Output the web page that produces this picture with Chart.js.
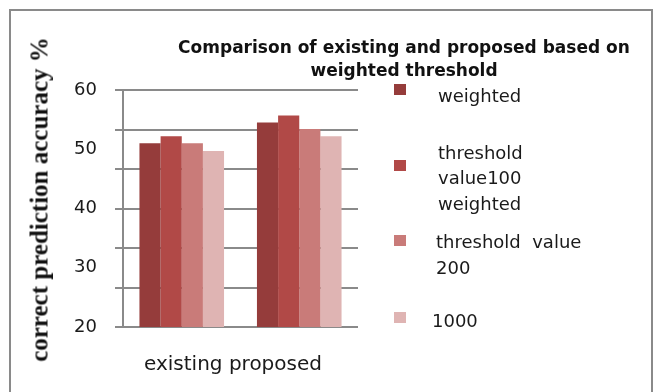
<!DOCTYPE html>
<html>
<head>
<meta charset="utf-8">
<script src="https://cdn.jsdelivr.net/npm/chart.js@4/dist/chart.umd.min.js"></script>
<style>
  body { margin: 0; background: #fff; }
  #wrap { position: relative; width: 657px; height: 392px; overflow: hidden; }
  #frame { position: absolute; left: 9px; top: 9px; width: 644px; height: 420px; box-sizing: border-box; border: 2px solid #8a8a8a; }
  #chart { position: absolute; left: 0; top: 0; }
  .txt { position: absolute; white-space: pre; font-family: 'DejaVu Sans', sans-serif; color: #1a1a1a; }
  .title { font-weight: bold; font-size: 17px; line-height: 23px; width: 600px; text-align: center; color: #111; }
  .ytitle { font-family: 'Liberation Serif', serif; font-weight: bold; font-size: 25px; line-height: 25px;
            width: 400px; height: 25px; text-align: center; transform: rotate(-90deg); color: #111; }
  .leg { font-size: 18px; line-height: 25.5px; }
  .sq { position: absolute; width: 12px; height: 11px; }
</style>
</head>
<body>
<div id="wrap">
  <div id="frame"></div>
  <canvas id="chart" width="657" height="392"></canvas>
</div>
<script>
// data
const categories = ['existing', 'proposed'];
const titleLines = ['Comparison of existing and proposed based on', 'weighted threshold'];
const yTitle = 'correct prediction accuracy %';
const yTicks = [20, 30, 40, 50, 60];

const seriesNames = [
  ['weighted'],
  ['threshold', 'value100', 'weighted'],
  ['threshold  value', '200'],
  ['1000']
];
const weightedValues = [51.0, 54.5];
const threshold100Values = [52.2, 55.7];
const threshold200Values = [51.0, 53.4];
const threshold1000Values = [49.7, 52.2];
const seriesColors = ['#953c3b', '#b14947', '#c97b79', '#dfb4b3'];

const allValues = [weightedValues, threshold100Values, threshold200Values, threshold1000Values];

// legend placement (first line centre, square centre, text x)
const legendPos = [
  { line: 95.4, sq: 89, x: 438 },
  { line: 152.5, sq: 165, x: 438 },
  { line: 242.2, sq: 240, x: 436 },
  { line: 320.7, sq: 317, x: 432 }
];

const wrap = document.getElementById('wrap');

function addText(cls, text, left, top) {
  const d = document.createElement('div');
  d.className = 'txt ' + cls;
  d.textContent = text;
  d.style.left = left + 'px';
  d.style.top = top + 'px';
  wrap.appendChild(d);
  return d;
}

titleLines.forEach((t, i) => addText('title', t, 404 - 300, 47 - 11.5 + i * 23));
addText('ytitle', yTitle, 38.5 - 200, 199.5 - 12.5);
addText('leg', categories.join(' '), 0, 364 - 12.75).style.cssText += 'width:466px;text-align:center;font-size:20px;';

seriesNames.forEach((lines, i) => {
  const p = legendPos[i];
  const sq = document.createElement('div');
  sq.className = 'sq';
  sq.style.left = '394px';
  sq.style.top = (p.sq - 5.5) + 'px';
  sq.style.background = seriesColors[i];
  wrap.appendChild(sq);
  lines.forEach((l, j) => addText('leg', l, p.x, p.line - 12.75 + j * 25.5));
});

const ctx = document.getElementById('chart').getContext('2d');
new Chart(ctx, {
  type: 'bar',
  data: {
    labels: categories,
    datasets: allValues.map((vals, i) => ({
      label: seriesNames[i].join(' '),
      data: vals,
      backgroundColor: seriesColors[i],
      borderWidth: 0,
      yAxisID: 'y',
      barPercentage: 1,
      categoryPercentage: 0.72
    }))
  },
  options: {
    responsive: false,
    animation: false,
    layout: { padding: { left: 12, top: 90, right: 299, bottom: 65 } },
    plugins: {
      legend: { display: false },
      title: { display: false },
      tooltip: { enabled: false }
    },
    scales: {
      x: {
        grid: { display: false, drawTicks: false },
        ticks: { display: false },
        border: { display: false },
        afterFit: s => { s.height = 0; }
      },
      yLabels: {
        position: 'left',
        weight: 1,
        min: yTicks[0],
        max: yTicks[yTicks.length - 1],
        afterBuildTicks: s => { s.ticks = yTicks.map(v => ({ value: v })); },
        ticks: { padding: 26, color: '#1a1a1a', font: { family: 'DejaVu Sans', size: 18 } },
        grid: { display: false, drawTicks: false },
        border: { display: false },
        afterFit: s => { s.width = 111; }
      },
      y: {
        position: 'left',
        weight: 0,
        min: yTicks[0],
        max: yTicks[yTicks.length - 1],
        ticks: { display: false, count: 7 },
        grid: { color: '#8a8a8a', lineWidth: 2, tickLength: 8 },
        border: { color: '#8a8a8a', width: 2 },
        afterFit: s => { s.width = 0; }
      }
    }
  }
});
</script>
</body>
</html>
